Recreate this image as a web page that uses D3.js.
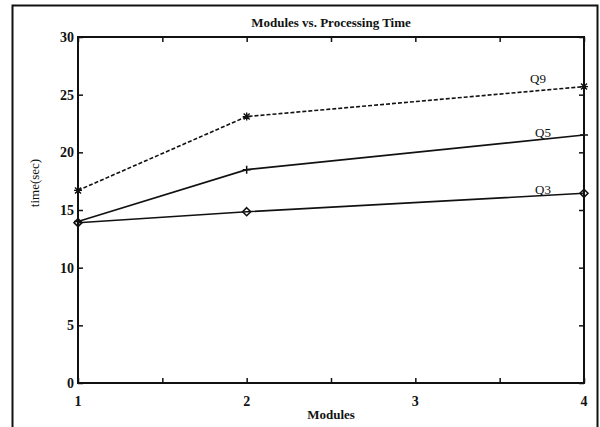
<!DOCTYPE html>
<html>
<head>
<meta charset="utf-8">
<script src="https://cdnjs.cloudflare.com/ajax/libs/d3/7.8.5/d3.min.js"></script>
<style>
  body { margin: 0; background: white; }
  svg text { font-family: "Liberation Serif", "DejaVu Serif", serif; fill: #111; }
</style>
</head>
<body>
<script>
var width = 600
var height = 427

var modules = [1, 2, 4]
var q3 = [13.9, 14.85, 16.45]
var q5 = [14.0, 18.5, 21.5]
var q9 = [16.7, 23.1, 25.7]

var xTicks = [1, 1.5, 2, 2.5, 3, 3.5, 4]
var xLabels = [1, 2, 3, 4]
var yTicks = [0, 5, 10, 15, 20, 25, 30]

var series = [
    { name: "Q9", values: q9, dash: "4,2", marker: "star", lx: 530, ly: 83 },
    { name: "Q5", values: q5, dash: null, marker: "plus", lx: 535, ly: 137 },
    { name: "Q3", values: q3, dash: null, marker: "diamond", lx: 535, ly: 194 }
]

var plotLeft = 78, plotRight = 584, plotTop = 37, plotBottom = 383

var x = d3.scaleLinear().domain([1, 4]).range([plotLeft, plotRight])
var y = d3.scaleLinear().domain([0, 30]).range([plotBottom, plotTop])

var svg = d3.select("body")
    .append("svg")
    .attr("width", width)
    .attr("height", height)

// outer frame
svg.append("rect")
    .attr("x", 12.5).attr("y", 5.5)
    .attr("width", 585).attr("height", 440)
    .attr("fill", "none")
    .attr("stroke", "#111")
    .attr("stroke-width", 2)

// axes, ticks pointing inward on all sides
svg.append("g")
    .attr("transform", "translate(0," + plotBottom + ")")
    .call(d3.axisTop(x).tickValues(xTicks).tickSize(5).tickFormat(""))
svg.append("g")
    .attr("transform", "translate(0," + plotTop + ")")
    .call(d3.axisBottom(x).tickValues(xTicks).tickSize(5).tickFormat(""))
svg.append("g")
    .attr("transform", "translate(" + plotLeft + ",0)")
    .call(d3.axisRight(y).tickValues(yTicks).tickSize(5).tickFormat(""))
svg.append("g")
    .attr("transform", "translate(" + plotRight + ",0)")
    .call(d3.axisLeft(y).tickValues(yTicks).tickSize(5).tickFormat(""))

svg.selectAll(".domain").remove()
svg.selectAll(".tick line").attr("stroke", "#111").attr("stroke-width", 1.5)

svg.append("rect")
    .attr("x", plotLeft).attr("y", plotTop)
    .attr("width", plotRight - plotLeft).attr("height", plotBottom - plotTop)
    .attr("fill", "none")
    .attr("stroke", "#111")
    .attr("stroke-width", 2)

// tick labels
svg.selectAll(".ylab")
    .data(yTicks)
    .enter()
    .append("text")
    .attr("x", plotLeft - 4)
    .attr("y", function (d) { return y(d) + 5 })
    .attr("text-anchor", "end")
    .attr("font-size", 14)
    .attr("font-weight", "bold")
    .text(function (d) { return d })

svg.selectAll(".xlab")
    .data(xLabels)
    .enter()
    .append("text")
    .attr("x", function (d) { return x(d) })
    .attr("y", 406)
    .attr("text-anchor", "middle")
    .attr("font-size", 14)
    .attr("font-weight", "bold")
    .text(function (d) { return d })

// titles
svg.append("text")
    .attr("x", (plotLeft + plotRight) / 2)
    .attr("y", 27)
    .attr("text-anchor", "middle")
    .attr("font-size", 13)
    .attr("font-weight", "bold")
    .text("Modules vs. Processing Time")

svg.append("text")
    .attr("x", (plotLeft + plotRight) / 2)
    .attr("y", 419)
    .attr("text-anchor", "middle")
    .attr("font-size", 13)
    .attr("font-weight", "bold")
    .text("Modules")

svg.append("text")
    .attr("transform", "translate(39,183) rotate(-90)")
    .attr("text-anchor", "middle")
    .attr("font-size", 13)
    .text("time(sec)")

// lines
var line = d3.line()
    .x(function (d, i) { return x(modules[i]) })
    .y(function (d) { return y(d) })

series.forEach(function (s) {
    svg.append("path")
        .datum(s.values)
        .attr("d", line)
        .attr("fill", "none")
        .attr("stroke", "#111")
        .attr("stroke-width", 1.6)
        .attr("stroke-dasharray", s.dash)

    var g = svg.selectAll(".m-" + s.name)
        .data(s.values)
        .enter()
        .append("g")
        .attr("transform", function (d, i) { return "translate(" + x(modules[i]) + "," + y(d) + ")" })

    if (s.marker === "plus") {
        g.append("path").attr("d", "M-4,0H4M0,-4V4").attr("stroke", "#111").attr("stroke-width", 1.5)
    } else if (s.marker === "star") {
        g.append("path").attr("d", "M-4,0H4M0,-4V4M-3,-3L3,3M-3,3L3,-3").attr("stroke", "#111").attr("stroke-width", 1.4)
    } else {
        g.append("path").attr("d", "M0,-4L4,0L0,4L-4,0Z").attr("fill", "none").attr("stroke", "#111").attr("stroke-width", 1.6)
    }

    svg.append("text")
        .attr("x", s.lx)
        .attr("y", s.ly)
        .attr("font-size", 13)
        .text(s.name)
})
</script>
</body>
</html>
